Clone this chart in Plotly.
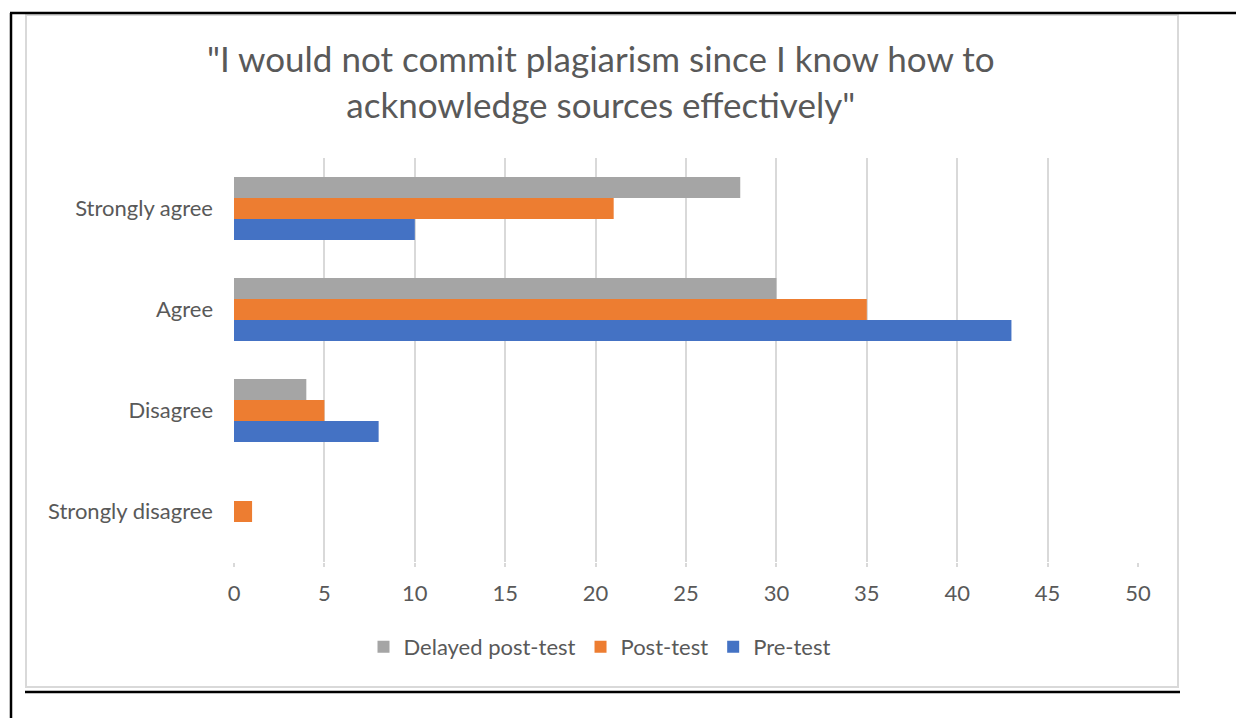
import plotly.graph_objects as go

categories = ["Strongly disagree", "Disagree", "Agree", "Strongly agree"]
pre_test = [0, 8, 43, 10]
post_test = [1, 5, 35, 21]
delayed_post_test = [0, 4, 30, 28]
x_ticks = [0, 5, 10, 15, 20, 25, 30, 35, 40, 45, 50]
title_text = '"I would not commit plagiarism since I know how to<br>acknowledge sources effectively"'

OFF = 8  # page body margin
W, H = 1244 - OFF, 726 - 2 * OFF
L, R, T, B = 234, 1138, 158, 562  # plot area in reference (screen) pixels
FONT = "Lato"
TXT = "#595959"
GRID = "#D9D9D9"

def px(x):
    return (x - L) / (R - L)

def py(y):
    return (B - y) / (B - T)

fig = go.Figure()
fig.add_trace(go.Bar(y=categories, x=pre_test, name="Pre-test", orientation="h",
                     marker=dict(color="#4472C4", line=dict(width=0))))
fig.add_trace(go.Bar(y=categories, x=post_test, name="Post-test", orientation="h",
                     marker=dict(color="#ED7D31", line=dict(width=0))))
fig.add_trace(go.Bar(y=categories, x=delayed_post_test, name="Delayed post-test", orientation="h",
                     marker=dict(color="#A5A5A5", line=dict(width=0))))

shapes = [
    dict(type="rect", xref="paper", yref="paper", x0=px(26), x1=px(1178), y0=py(687), y1=py(15),
         line=dict(color=GRID, width=2), fillcolor="rgba(0,0,0,0)", layer="below"),
    dict(type="line", xref="paper", yref="paper", x0=px(10), x1=px(1242), y0=py(13), y1=py(13),
         line=dict(color="black", width=2.5)),
    dict(type="line", xref="paper", yref="paper", x0=px(11), x1=px(11), y0=py(13), y1=py(730),
         line=dict(color="black", width=2.5)),
    dict(type="line", xref="paper", yref="paper", x0=px(25), x1=px(1180), y0=py(692), y1=py(692),
         line=dict(color="black", width=2.5)),
]

annotations = [
    dict(text=title_text, xref="paper", yref="paper", x=px(601), y=py(81),
         xanchor="center", yanchor="middle", showarrow=False, align="center",
         font=dict(family=FONT, size=35, color=TXT)),
]

fig.update_layout(
    width=W, height=H,
    margin=dict(l=L - OFF, r=W - (R - OFF), t=T - OFF, b=H - (B - OFF), autoexpand=False),
    paper_bgcolor="white", plot_bgcolor="white",
    barmode="group", bargap=0.375, bargroupgap=0,
    font=dict(family=FONT, color=TXT, size=22),
    xaxis=dict(range=[0, 50], tickvals=x_ticks, showgrid=True, gridcolor=GRID, gridwidth=1.5,
               zeroline=False, showline=False, ticks="outside", ticklen=4, tickcolor=GRID,
               tickwidth=1.5, tickfont=dict(size=22, color=TXT), ticklabelstandoff=8),
    yaxis=dict(categoryorder="array", categoryarray=categories, showgrid=False, zeroline=False,
               showline=False, ticks="", tickfont=dict(size=22, color=TXT), ticklabelstandoff=20),
    legend=dict(orientation="h", x=px(600), xanchor="center", y=py(647), yanchor="middle",
                traceorder="reversed", font=dict(size=22, color=TXT)),
    annotations=annotations,
    shapes=shapes,
    showlegend=True,
)

fig.write_html("out.html")
